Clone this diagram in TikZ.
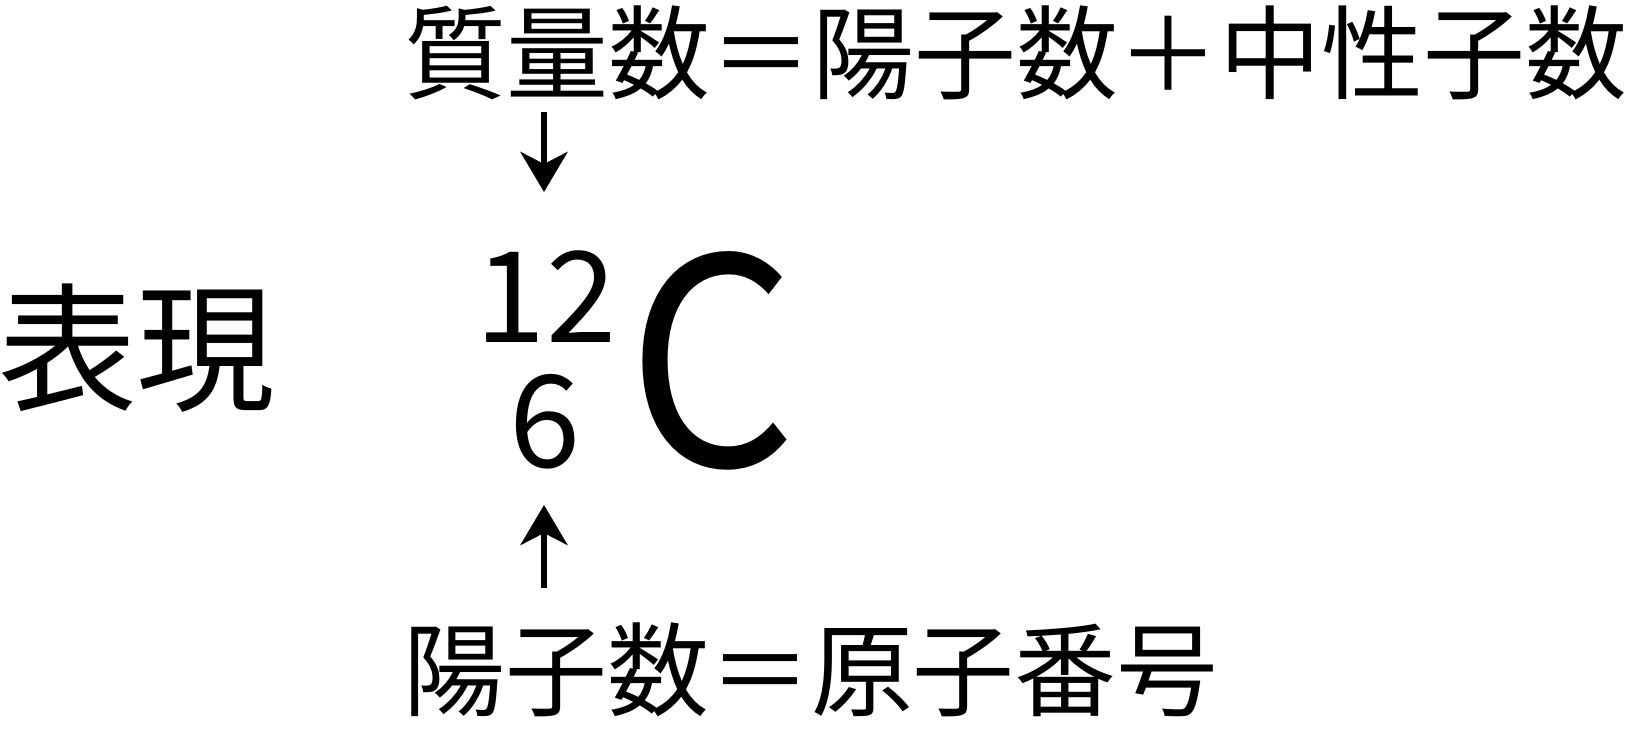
\documentclass[tikz,border=0pt]{standalone}
\usepackage{fontspec}
\setmainfont{Noto Sans CJK JP}
\usetikzlibrary{arrows.meta}

\begin{document}
\begin{tikzpicture}
        \useasboundingbox (0,0) rectangle (16.28,-7.42);
        \tikzset{arr/.style={-{Stealth[length=0.40cm,width=0.47cm,inset=0.12cm]},line width=0.06cm}}
        
        \coordinate (m) at (10.16,-0.92);
        \coordinate (z) at (8.11,-7.08);
        \coordinate (h) at (1.37,-4.00);
        \coordinate (ma) at (5.46,-3.42);
        \coordinate (zn) at (5.45,-4.67);
        \coordinate (el) at (7.12,-4.66);
        
        \node[anchor=base,inner sep=0] (mass) at (m) {\fontsize{29pt}{29pt}\selectfont 質量数＝陽子数＋中性子数};
        \node[anchor=base,inner sep=0] (atomic) at (z) {\fontsize{29pt}{29pt}\selectfont 陽子数＝原子番号};
        \node[anchor=base,inner sep=0] (expr) at (h) {\fontsize{39.5pt}{39.5pt}\selectfont 表現};
        \node[anchor=base,inner sep=0] (A) at (ma) {\fontsize{36pt}{36pt}\selectfont 12};
        \node[anchor=base,inner sep=0] (Z) at (zn) {\fontsize{36.5pt}{36.5pt}\selectfont 6};
        \node[anchor=base,inner sep=0,xscale=0.92] (C) at (el) {\fontsize{82pt}{82pt}\selectfont C};
        
        \coordinate (a1) at (5.44,-1.12);
        \coordinate (a2) at (5.44,-1.92);
        \coordinate (b1) at (5.44,-5.88);
        \coordinate (b2) at (5.44,-5.05);
        
        \draw[arr] (a1) -- (a2);
        \draw[arr] (b1) -- (b2);
        
    \end{tikzpicture}
\end{document}
